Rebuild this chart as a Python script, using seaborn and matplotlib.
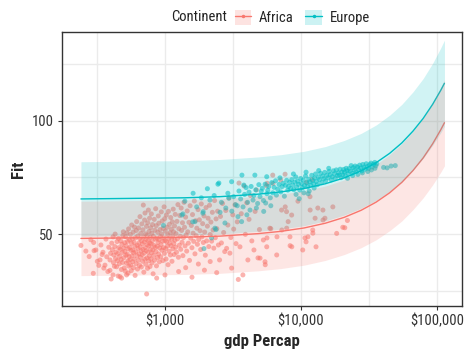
import matplotlib
matplotlib.use("Agg")
import matplotlib.pyplot as plt
import matplotlib.ticker as mticker
from matplotlib import font_manager
from matplotlib.lines import Line2D
from matplotlib.patches import Patch
import pandas as pd
import seaborn as sns

# observed points (gdpPercap, lifeExp)
africa_points = [
    (241, 45.0), (262, 42.5), (277, 40.1), (285, 47.5), (297, 32.7), (299, 46.3), (301, 42.7), (310, 43.0),
    (318, 38.0), (326, 36.2), (333, 38.6), (338, 45.2), (345, 41.0), (350, 42.0), (355, 35.0), (362, 36.3),
    (368, 47.8), (373, 40.0), (380, 33.5), (386, 44.2), (394, 38.6), (394, 34.0), (398, 41.5), (402, 30.2),
    (406, 46.0), (410, 43.1), (415, 48.8), (415, 32.0), (418, 37.4), (420, 40.8),
    (425, 35.8), (428, 44.5), (430, 50.0), (433, 39.2), (436, 42.1), (441, 35.6), (444, 46.7), (447, 38.3),
    (450, 41.4), (452, 31.5), (455, 48.1), (458, 44.0), (461, 36.9), (464, 40.2), (467, 31.2), (469, 43.3),
    (472, 47.0), (475, 38.8), (478, 34.4), (480, 30.6), (482, 45.5), (485, 41.9), (488, 37.5), (490, 49.3),
    (494, 51.0), (496, 43.8), (499, 39.6), (502, 35.1), (505, 46.2), (507, 42.4), (510, 33.7), (513, 48.9),
    (516, 40.7), (518, 44.9), (521, 37.2), (522, 32.0), (525, 50.6), (528, 41.1), (531, 46.8), (534, 38.1),
    (535, 32.8), (537, 43.5), (540, 52.3), (543, 35.9), (545, 40.0), (548, 47.4), (551, 44.1), (553, 38.7),
    (556, 49.8), (559, 36.4), (562, 42.8), (565, 33.9), (567, 45.9), (569, 54.0), (572, 40.5), (575, 47.9),
    (578, 37.8), (580, 43.0), (583, 50.9), (586, 35.2), (589, 41.7), (592, 46.4), (594, 39.0), (597, 53.1),
    (600, 44.6), (603, 31.8), (606, 48.4), (609, 42.2), (612, 37.0), (615, 51.6), (619, 55.5), (622, 40.4),
    (625, 45.1), (628, 34.6), (631, 49.2), (634, 43.7), (637, 38.4), (640, 52.7), (643, 46.0), (646, 41.3),
    (649, 36.2), (652, 48.0), (655, 57.7), (658, 44.3), (661, 39.8), (664, 50.3), (667, 42.6), (670, 35.5),
    (673, 47.1), (676, 54.5), (679, 40.9), (682, 45.7), (685, 38.0), (688, 51.9), (691, 43.2), (693, 62.8),
    (696, 48.7), (699, 33.2),
    (702, 41.6), (705, 46.5), (708, 56.2), (711, 38.9), (713, 59.3), (716, 44.0), (719, 50.1), (722, 36.7),
    (725, 47.6), (728, 42.7), (731, 53.4), (733, 23.6), (735, 39.5), (738, 45.3), (741, 49.5), (744, 34.9),
    (747, 55.0), (750, 42.0), (752, 47.2), (755, 60.6), (758, 38.2), (761, 44.8), (764, 51.2), (767, 40.3),
    (770, 57.0), (773, 46.1), (776, 35.7), (779, 48.6), (782, 43.4), (785, 52.8), (788, 39.1), (791, 45.6),
    (794, 58.9), (797, 41.8), (800, 50.4), (803, 37.3), (806, 47.0), (810, 54.2), (814, 43.0), (818, 32.5),
    (822, 49.0), (826, 40.6), (830, 45.0), (834, 56.5), (838, 38.5), (842, 51.7), (846, 44.2), (850, 47.8),
    (854, 61.2), (858, 42.3), (862, 53.7), (866, 36.0), (869, 30.6), (873, 48.2), (877, 44.6), (881, 39.7),
    (885, 50.8), (889, 46.3), (893, 58.0), (897, 41.2), (901, 54.8), (905, 47.5), (910, 37.8), (915, 43.9),
    (920, 52.0), (925, 48.9), (930, 40.0), (935, 45.4), (940, 59.8), (945, 50.0), (950, 42.9), (955, 55.8),
    (960, 46.9), (965, 38.3), (970, 52.5), (975, 44.0), (980, 48.3), (985, 62.0), (990, 41.5), (995, 56.8),
    (1000, 47.1), (1000, 32.0), (1006, 51.3), (1012, 43.6), (1018, 39.0), (1024, 58.4), (1030, 46.6),
    (1036, 53.0), (1042, 44.7), (1048, 49.7), (1054, 36.5), (1060, 60.0), (1066, 48.0), (1072, 42.4),
    (1078, 54.3), (1084, 46.0), (1090, 50.6), (1096, 40.8), (1102, 57.3), (1108, 44.9), (1114, 52.2),
    (1120, 47.7), (1126, 38.0), (1132, 55.4), (1138, 49.0), (1144, 43.5), (1150, 61.0), (1156, 51.0),
    (1162, 45.8), (1168, 41.0), (1175, 53.6), (1182, 47.3), (1190, 58.7), (1197, 44.2),
    (1205, 50.2), (1215, 42.0), (1225, 55.6), (1235, 47.9), (1245, 63.0), (1255, 39.8), (1260, 33.5),
    (1265, 52.4), (1275, 45.1), (1285, 58.2), (1295, 49.0), (1305, 43.3), (1315, 61.5), (1325, 51.6),
    (1335, 46.4), (1345, 55.0), (1355, 40.5), (1368, 48.5), (1380, 64.0), (1392, 53.0), (1405, 44.8),
    (1418, 57.5), (1420, 35.2), (1431, 49.6), (1444, 42.5), (1457, 60.2), (1470, 51.0), (1485, 46.0),
    (1500, 55.2), (1515, 38.4), (1530, 62.5), (1546, 48.2), (1562, 53.8), (1578, 44.0), (1580, 31.0),
    (1594, 58.6), (1610, 50.4), (1627, 46.8), (1644, 64.6), (1661, 41.3), (1678, 55.9), (1696, 49.3),
    (1714, 52.6), (1732, 45.5), (1750, 60.8), (1760, 36.8), (1770, 47.6), (1790, 56.3), (1810, 51.5),
    (1830, 43.2), (1850, 63.3), (1870, 48.8), (1892, 54.6), (1914, 46.3), (1936, 58.0), (1950, 34.1),
    (1958, 50.9), (1980, 40.7), (2003, 61.7), (2026, 47.0), (2050, 53.5), (2075, 57.0), (2100, 44.5),
    (2125, 62.7), (2150, 49.8), (2150, 37.9), (2176, 55.3), (2203, 46.9), (2230, 59.6), (2258, 51.8),
    (2286, 43.8), (2315, 64.8), (2345, 48.4), (2375, 56.7), (2400, 33.0), (2405, 52.4), (2437, 60.1),
    (2470, 45.2),
    (2520, 38.6), (2560, 57.8), (2600, 46.1), (2650, 63.5), (2700, 50.7), (2750, 42.3), (2800, 60.4),
    (2840, 43.7), (2900, 54.0), (2950, 66.0), (3000, 41.6), (3050, 48.5), (3090, 35.0), (3150, 58.5),
    (3200, 52.2), (3270, 62.9), (3330, 45.8), (3400, 55.4), (3460, 30.0), (3500, 72.5), (3560, 44.4),
    (3640, 59.0), (3740, 32.0), (3820, 71.2), (3900, 49.9), (3990, 63.8), (4070, 38.6), (4150, 56.5),
    (4250, 67.0), (4350, 47.0), (4510, 43.0), (4600, 60.0), (4700, 69.5), (4830, 39.5), (4950, 52.0),
    (5000, 39.4), (5290, 47.4), (5440, 37.8), (5460, 36.5), (5581, 71.3), (5600, 44.4), (5620, 48.3),
    (5640, 72.4), (5900, 52.6), (6000, 52.4), (6200, 76.0), (6223, 72.3), (6630, 40.8), (6660, 48.8),
    (7093, 73.9), (7200, 60.6), (7230, 51.8), (7640, 76.4), (7660, 62.0), (7830, 59.9), (7850, 52.6),
    (8050, 55.5), (8300, 48.8), (8320, 44.9), (8540, 58.4), (8560, 44.4), (9500, 64.5), (10300, 43.0),
    (10700, 48.3), (10900, 46.6), (10956, 72.8), (11250, 48.8), (11650, 66.5), (11680, 60.6), (12057, 74.0),
    (12200, 51.8), (12230, 50.4), (12700, 57.0), (12900, 44.4), (13300, 61.5), (14500, 60.6), (14520, 56.2),
    (15000, 57.0), (17150, 62.0), (18300, 50.3), (20300, 53.0), (21000, 52.8), (21950, 56.0),
]

europe_points = [
    (974, 53.8), (1330, 58.4), (1355, 58.9), (1400, 64.5), (1600, 55.4), (1610, 68.0), (1660, 55.5),
    (1710, 62.0), (1850, 66.0), (1900, 59.2), (1910, 59.9), (1935, 43.6), (2050, 70.0), (2140, 65.0),
    (2200, 48.3), (2300, 67.0), (2330, 52.6), (2370, 52.0), (2450, 72.0), (2490, 72.5), (2540, 59.6),
    (2600, 64.0), (2760, 54.9), (2800, 61.5), (2900, 68.0), (2950, 65.8),
    (3090, 73.1), (3100, 60.1), (3200, 66.5), (3300, 63.0), (3400, 62.5), (3440, 57.7), (3500, 69.0),
    (3600, 65.5), (3660, 55.5), (3680, 76.0), (3750, 62.0), (3800, 71.6), (3850, 67.5), (3950, 70.5),
    (4000, 58.5), (4050, 64.0), (4150, 68.5), (4220, 60.6), (4300, 71.0), (4440, 65.0), (4500, 67.0),
    (4580, 76.0), (4650, 69.5), (4700, 61.5), (4800, 63.5), (4900, 71.8), (5000, 66.5), (5100, 68.9),
    (5200, 70.2), (5300, 64.8), (5320, 60.0), (5450, 72.0), (5500, 63.7), (5600, 75.3), (5620, 67.8),
    (5700, 69.3), (5800, 71.0), (5950, 66.0), (6000, 62.5), (6100, 72.7), (6200, 68.2), (6350, 70.6),
    (6500, 73.5), (6600, 67.2), (6750, 69.8), (6900, 71.9), (7000, 74.8), (7100, 68.6), (7250, 70.9),
    (7400, 72.4), (7550, 66.7), (7700, 71.5), (7850, 73.7), (8000, 69.4),
    (8100, 71.0), (8250, 72.8), (8400, 70.1), (8550, 74.0), (8700, 71.7), (8800, 76.5), (8850, 69.6),
    (9000, 72.9), (9150, 75.2), (9200, 67.5), (9300, 70.8), (9450, 73.3), (9600, 71.9), (9700, 65.6),
    (9800, 69.4), (9950, 74.5), (10100, 72.3), (10250, 70.5), (10400, 73.8), (10500, 68.2), (10600, 71.4),
    (10800, 75.6), (10900, 77.3), (11000, 72.6), (11200, 70.9), (11300, 67.8), (11400, 74.2), (11500, 69.0),
    (11600, 73.0), (11800, 71.6), (12000, 75.9), (12200, 73.6), (12400, 72.1), (12500, 70.3), (12600, 74.7),
    (12800, 76.5), (13000, 73.2), (13200, 71.8), (13450, 75.1), (13500, 78.0), (13700, 74.0), (13950, 76.8),
    (14200, 72.7), (14450, 75.6), (14700, 74.4), (14950, 77.2), (15200, 73.5), (15500, 75.9), (15800, 74.8),
    (16000, 79.0), (16100, 77.6), (16400, 76.2), (16700, 73.9), (17000, 75.3), (17300, 77.9), (17600, 76.6),
    (17900, 74.6), (18200, 78.3), (18500, 75.8), (18800, 77.0), (19100, 76.0), (19400, 78.6), (19700, 74.9),
    (20000, 77.3),
    (20300, 76.1), (20600, 78.5), (20900, 77.4), (21200, 75.7), (21500, 79.0), (21800, 77.9), (22000, 74.6),
    (22200, 76.7), (22600, 78.9), (23000, 77.8), (23400, 80.2), (23800, 76.9), (24000, 75.8), (24200, 79.3),
    (24600, 78.1), (25000, 80.0), (25500, 77.5), (26000, 79.6), (26200, 76.3), (26500, 78.4), (27000, 80.4),
    (27500, 79.1), (28000, 77.8), (28300, 77.0), (28500, 80.7), (29000, 79.5), (29600, 78.6), (30200, 81.0),
    (30800, 79.8), (31000, 77.6), (31400, 78.9), (32000, 80.6), (32700, 81.3), (33000, 78.3), (33400, 79.6),
    (34100, 80.8), (34900, 81.6), (35000, 79.0), (35500, 80.1), (36100, 81.0), (40500, 79.4), (43000, 79.2),
    (46000, 80.0), (49357, 80.2),
]

# model predictions
pred_gdp = [241, 1385, 2529, 4817, 7105, 10537, 15113, 20833, 27697, 35705,
            44857, 55153, 66593, 79177, 92905, 106633, 113500]
africa_fit = [48.1, 48.6, 49.1, 50.2, 51.2, 52.7, 54.8, 57.4, 60.5, 64.1,
              68.2, 72.8, 78.0, 83.6, 89.8, 96.0, 99.1]
africa_lwr = [31.7, 32.2, 32.7, 33.8, 34.8, 36.3, 38.4, 41.0, 44.0, 47.5,
              51.5, 55.8, 60.8, 66.0, 71.7, 77.3, 80.1]
africa_upr = [64.5, 65.0, 65.5, 66.6, 67.6, 69.1, 71.2, 73.9, 77.0, 80.7,
              85.0, 89.8, 95.3, 101.2, 107.9, 114.7, 118.1]
europe_fit = [65.5, 66.0, 66.5, 67.6, 68.6, 70.1, 72.2, 74.8, 77.9, 81.5,
              85.6, 90.2, 95.4, 101.0, 107.2, 113.4, 116.5]
europe_lwr = [49.1, 49.6, 50.1, 51.2, 52.2, 53.7, 55.8, 58.4, 61.4, 64.9,
              68.9, 73.2, 78.2, 83.4, 89.1, 94.7, 97.5]
europe_upr = [81.9, 82.4, 82.9, 84.0, 85.0, 86.5, 88.6, 91.3, 94.4, 98.1,
              102.4, 107.2, 112.7, 118.6, 125.3, 132.1, 135.5]

continents = ["Africa", "Europe"]
palette = {"Africa": "#F8766D", "Europe": "#00BFC4"}

sns.set_theme(style="whitegrid")
# pick a condensed face if one is installed
installed = {f.name for f in font_manager.fontManager.ttflist}
narrow = [n for n in ["Liberation Sans Narrow", "Noto Sans Condensed", "DejaVu Sans Condensed",
                      "Roboto Condensed", "Open Sans Condensed"] if n in installed]
plt.rcParams["font.family"] = narrow + ["DejaVu Sans"]
condensed = bool(narrow)

pts = pd.concat([
    pd.DataFrame(africa_points, columns=["gdpPercap", "lifeExp"]).assign(continent="Africa"),
    pd.DataFrame(europe_points, columns=["gdpPercap", "lifeExp"]).assign(continent="Europe"),
])
pred = pd.concat([
    pd.DataFrame({"gdpPercap": pred_gdp, "fit": africa_fit, "lwr": africa_lwr,
                  "upr": africa_upr, "continent": "Africa"}),
    pd.DataFrame({"gdpPercap": pred_gdp, "fit": europe_fit, "lwr": europe_lwr,
                  "upr": europe_upr, "continent": "Europe"}),
])

fig = plt.figure(figsize=(4.7, 3.54), dpi=100)
ax = fig.add_axes([0.132, 0.1356, 0.851, 0.774])
ax.set_xscale("log")

sns.scatterplot(data=pts, x="gdpPercap", y="lifeExp", hue="continent", palette=palette,
                hue_order=continents, alpha=0.55, s=13, linewidth=0, legend=False, ax=ax, zorder=2)
sns.lineplot(data=pred, x="gdpPercap", y="fit", hue="continent", palette=palette,
             hue_order=continents, linewidth=1.0, legend=False, ax=ax, zorder=3)
for cont in ["Europe", "Africa"]:
    d = pred[pred["continent"] == cont]
    ax.fill_between(d["gdpPercap"], d["lwr"], d["upr"], color=palette[cont],
                    alpha=0.18, linewidth=0, zorder=4)

ax.set_xlim(175, 152800)
ax.set_ylim(18.3, 139.1)
ax.xaxis.set_major_locator(mticker.FixedLocator([1e3, 1e4, 1e5]))
ax.xaxis.set_major_formatter(mticker.FixedFormatter(["$1,000", "$10,000", "$100,000"]))
ax.xaxis.set_minor_locator(mticker.FixedLocator([10 ** 2.5, 10 ** 3.5, 10 ** 4.5]))
ax.yaxis.set_major_locator(mticker.FixedLocator([50, 100]))
ax.yaxis.set_minor_locator(mticker.FixedLocator([25, 75, 125]))
ax.grid(True, which="both", color="#EBEBEB", linewidth=1.0, zorder=0)
ax.set_axisbelow(True)
tick_size = 10.5 if condensed else 9
ax.tick_params(axis="both", which="major", length=3, width=0.8, color="#333333",
               labelsize=tick_size, labelcolor="#333333", pad=3, direction="out",
               bottom=True, left=True)
ax.tick_params(axis="both", which="minor", length=0)
for s in ax.spines.values():
    s.set_color("#333333")
    s.set_linewidth(1.0)

label_size = 12 if condensed else 10.5
ax.set_xlabel("gdp Percap", fontsize=label_size, fontweight="bold", labelpad=4)
ax.set_ylabel("Fit", fontsize=label_size, fontweight="bold", labelpad=4)

handles = [(Patch(facecolor=palette[c], alpha=0.2, linewidth=0),
            Line2D([], [], color=palette[c], linewidth=1.0, marker="o", markersize=2.5,
                   markeredgewidth=0, alpha=1.0)) for c in continents]
leg_size = 10.5 if condensed else 9
fig.text(0.482, 0.951, "Continent", fontsize=leg_size, va="center", ha="right", color="#222222")
fig.legend(handles, continents, loc="center left", bbox_to_anchor=(0.500, 0.951), ncol=2,
           frameon=False, fontsize=leg_size, handlelength=1.1, handleheight=1.2,
           handletextpad=0.55, columnspacing=0.8, borderpad=0, borderaxespad=0)

fig.savefig("out.png", dpi=100)
